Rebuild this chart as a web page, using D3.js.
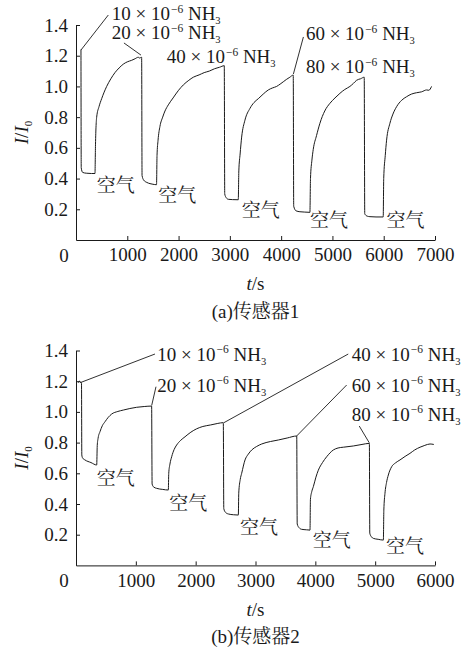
<!DOCTYPE html>
<html><head><meta charset="utf-8">
<script src="https://cdn.jsdelivr.net/npm/d3@7"></script>
<style>body{margin:0;background:#fff}</style>
</head><body><svg id="c" width="462" height="649"></svg>
<script>
// ---------------- data ----------------
const concentrations = [10, 20, 40, 60, 80];
const airLabel = "空气";
const yTickValues = [0.2, 0.4, 0.6, 0.8, 1.0, 1.2, 1.4];
const xTicksA = [1000, 2000, 3000, 4000, 5000, 6000, 7000];
const xTicksB = [1000, 2000, 3000, 4000, 5000, 6000];
const captionA = ["(a)", "传感器", "1"];
const captionB = ["(b)", "传感器", "2"];

const timeA = [97,102,130,200,300,370,
  380,403,450,500,598,680,760,840,922,1000,1085,1150,1215,1240,1280,
  1288,1320,1380,1443,1500,1570,
  1580,1600,1637,1690,1735,1800,1893,2000,2093,2200,2287,2400,2500,2600,2700,2800,2891,
  2900,2930,2970,3050,3164,
  3175,3200,3230,3294,3392,3470,3554,3650,3749,3830,3912,3980,4041,4100,4170,4236,
  4245,4290,4366,4450,4561,
  4572,4600,4626,4690,4756,4850,4951,5050,5146,5240,5341,5410,5471,5550,5620,
  5630,5680,5731,5850,5990,
  6000,6030,6056,6121,6180,6251,6350,6446,6540,6641,6740,6836,6880,6933];
const ratioA = [1.24,0.47,0.44,0.435,0.433,0.433,
  0.62,0.80,0.87,0.92,1.0,1.05,1.09,1.12,1.145,1.16,1.17,1.18,1.19,1.185,1.19,
  0.42,0.39,0.375,0.367,0.363,0.36,
  0.55,0.65,0.74,0.80,0.84,0.88,0.925,0.975,1.01,1.04,1.06,1.075,1.09,1.10,1.115,1.125,1.135,
  0.30,0.275,0.265,0.263,0.262,
  0.45,0.56,0.67,0.78,0.857,0.895,0.92,0.95,0.977,0.99,1.0,1.015,1.03,1.045,1.06,1.074,
  0.22,0.19,0.184,0.182,0.18,
  0.40,0.52,0.59,0.68,0.76,0.84,0.89,0.925,0.955,0.98,1.0,1.02,1.04,1.05,1.06,
  0.17,0.155,0.152,0.15,0.15,
  0.40,0.55,0.65,0.76,0.82,0.868,0.91,0.933,0.95,0.959,0.965,0.977,0.975,1.0];

const timeB = [38,60,75,92,97,110,150,250,346,
  355,370,401,440,485,540,596,700,791,900,1014,1140,1264,
  1272,1300,1348,1450,1543,
  1550,1570,1599,1640,1682,1750,1822,1920,2017,2120,2250,2370,2462,
  2470,2500,2546,2630,2713,
  2720,2745,2769,2825,2880,2937,3020,3104,3250,3382,3530,3689,
  3697,3730,3772,3850,3911,
  3918,3940,3967,4010,4050,4120,4190,4301,4380,4468,4635,4780,4903,
  4910,4940,4970,5050,5137,
  5145,5164,5190,5220,5276,5340,5415,5500,5582,5660,5750,5830,5917,5980];
const ratioB = [1.19,1.2,1.195,1.19,0.72,0.70,0.687,0.67,0.654,
  0.78,0.83,0.871,0.91,0.936,0.965,0.986,1.003,1.012,1.022,1.03,1.035,1.038,
  0.53,0.51,0.502,0.495,0.491,
  0.60,0.66,0.708,0.755,0.784,0.815,0.838,0.868,0.89,0.905,0.915,0.925,0.93,
  0.37,0.345,0.335,0.33,0.328,
  0.47,0.56,0.60,0.687,0.725,0.752,0.775,0.791,0.807,0.817,0.83,0.843,
  0.27,0.245,0.235,0.232,0.23,
  0.43,0.48,0.513,0.575,0.62,0.67,0.708,0.752,0.765,0.77,0.778,0.788,0.795,
  0.21,0.185,0.176,0.17,0.165,
  0.36,0.47,0.54,0.589,0.643,0.668,0.687,0.71,0.73,0.752,0.77,0.782,0.791,0.788];

// ---------------- layout ----------------
const ink = "#1a1a1a";
const fs = 19;
const serif = '"Liberation Serif", "Times New Roman", serif';
const cjkSerif = '"Noto Serif CJK SC", "Noto Sans CJK SC", serif';

const panels = [
  { time: timeA, ratio: ratioA, xMax: 7000, xTicks: xTicksA, caption: captionA,
    xr: [76, 435], yr: [240, 25], titleY: 290, captionY: 318,
    labelPos: [[696,1.432],[696,1.307],[1768,1.150],[4483,1.302],[4483,1.085]],
    pointers: [[630,1.465,97,1.237],[935,1.283,1267,1.204],null,[4434,1.322,4239,1.081],null],
    airPos: [[403,0.365],[1604,0.30],[3230,0.204],[4561,0.137],[6056,0.137]] },
  { time: timeB, ratio: ratioB, xMax: 6000, xTicks: xTicksB, caption: captionB,
    xr: [76, 435], yr: [565.4, 350.5], titleY: 616, captionY: 643,
    labelPos: [[1359,1.334],[1359,1.132],[4607,1.334],[4607,1.132],[4607,0.943]],
    pointers: [[1320,1.377,67,1.190],[1337,1.164,1265,1.042],[4550,1.377,2473,0.930],[4523,1.175,3688,0.843],[4734,0.908,4901,0.799]],
    airPos: [[346,0.578],[1559,0.415],[2740,0.261],[3955,0.177],[5180,0.135]] }
];

const svg = d3.select("#c");
svg.append("rect").attr("width", 462).attr("height", 649).attr("fill", "#fff");

function serifText(sel, size) {
  return sel.style("font-family", serif).style("font-size", size + "px").attr("fill", ink);
}

panels.forEach(p => {
  const x = d3.scaleLinear().domain([0, p.xMax]).range(p.xr);
  const y = d3.scaleLinear().domain([0, 1.4]).range(p.yr);
  const g = svg.append("g");

  // axes
  const yAxis = d3.axisLeft(y).tickValues(yTickValues).tickFormat(d3.format(".1f"))
    .tickSizeInner(-4).tickSizeOuter(0).tickPadding(8);
  const gy = g.append("g").attr("transform", `translate(${p.xr[0]},0)`).call(yAxis);
  const xAxis = d3.axisBottom(x).tickValues(p.xTicks).tickFormat(d3.format("d"))
    .tickSizeInner(-4).tickSizeOuter(0).tickPadding(8);
  const gx = g.append("g").attr("transform", `translate(0,${y(0)})`).call(xAxis);
  [gx, gy].forEach(a => {
    a.attr("font-family", null).attr("font-size", null);
    a.selectAll("path,line").attr("stroke", ink).attr("stroke-width", 1);
    serifText(a.selectAll("text"), fs);
  });
  serifText(g.append("text").attr("x", x(0) - 12).attr("y", y(0) + 21.7)
    .attr("text-anchor", "middle"), fs).text("0");

  // curve
  const line = d3.line().x((d, i) => x(p.time[i])).y((d, i) => y(p.ratio[i]))
    .curve(d3.curveMonotoneX);
  g.append("path").datum(p.time).attr("d", line).attr("fill", "none")
    .attr("stroke", ink).attr("stroke-width", 1);

  // axis titles
  const xt = serifText(g.append("text").attr("x", (p.xr[0] + p.xr[1]) / 2).attr("y", p.titleY)
    .attr("text-anchor", "middle"), fs);
  xt.append("tspan").style("font-style", "italic").text("t");
  xt.append("tspan").text("/s");

  const yt = serifText(g.append("text")
    .attr("transform", `translate(28,${(p.yr[0] + p.yr[1]) / 2}) rotate(-90)`)
    .attr("text-anchor", "middle"), fs);
  yt.append("tspan").style("font-style", "italic").text("I");
  yt.append("tspan").text("/");
  yt.append("tspan").style("font-style", "italic").text("I");
  yt.append("tspan").style("font-size", "11px").attr("dy", 4).text("0");

  // caption (Latin in serif, Chinese in serif CJK)
  const cap = serifText(g.append("text").attr("x", (p.xr[0] + p.xr[1]) / 2).attr("y", p.captionY)
    .attr("text-anchor", "middle"), fs);
  cap.append("tspan").text(p.caption[0]);
  cap.append("tspan").style("font-family", cjkSerif).text(p.caption[1]);
  cap.append("tspan").text(p.caption[2]);

  // annotations
  concentrations.forEach((c, i) => {
    const [lt, lv] = p.labelPos[i];
    const t = serifText(g.append("text").attr("x", x(lt)).attr("y", y(lv)), fs);
    t.append("tspan").text(c + " × 10");
    t.append("tspan").style("font-size", "11.5px").attr("dy", -7.5).attr("dx", 1).text("−6");
    t.append("tspan").attr("dy", 7.5).text(" NH");
    t.append("tspan").style("font-size", "10.5px").attr("dy", 4).text("3");
    const pt = p.pointers[i];
    if (pt) {
      g.append("line").attr("x1", x(pt[0])).attr("y1", y(pt[1]))
        .attr("x2", x(pt[2])).attr("y2", y(pt[3]))
        .attr("stroke", ink).attr("stroke-width", 0.9);
    }
    const [at, av] = p.airPos[i];
    g.append("text").attr("x", x(at)).attr("y", y(av)).attr("dominant-baseline", "central")
      .style("font-family", cjkSerif).style("font-size", "19px")
      .attr("fill", ink).text(airLabel);
  });
});
</script></body></html>
